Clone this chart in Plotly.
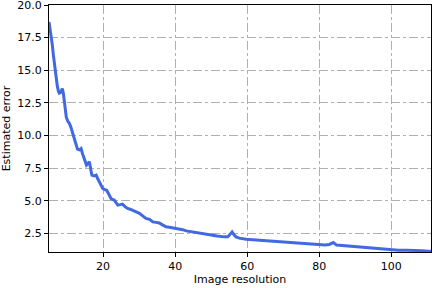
import plotly.graph_objects as go

resolution = [5.0, 5.3, 5.6, 5.9, 6.2, 6.5, 6.8, 7.0, 7.3, 7.6, 7.86, 8.2, 8.5, 8.7, 9.0, 9.4, 9.8, 10.2, 10.6, 11.0, 11.5, 11.75, 12.1, 12.6, 12.9, 13.4, 13.9, 14.3, 14.8, 15.1, 15.4, 15.8, 16.2, 16.6, 16.9, 17.5, 18.1, 18.5, 19.0, 19.5, 19.9, 20.5, 21.0, 21.6, 22.2, 22.6, 23.1, 23.6, 24.1, 24.8, 25.4, 26.1, 26.8, 27.5, 28.2, 29.1, 30.1, 30.8, 31.5, 31.9, 32.9, 33.8, 34.7, 35.6, 36.5, 37.5, 38.4, 39.3, 40.2, 41.2, 42.1, 43.1, 44.0, 44.9, 45.8, 46.7, 47.6, 48.6, 49.5, 50.4, 51.6, 52.8, 53.7, 54.6, 55.2, 55.8, 56.3, 56.9, 57.8, 58.8, 59.7, 60.6, 62.0, 63.4, 64.8, 66.2, 67.6, 69.0, 70.4, 71.7, 73.2, 75.0, 76.9, 79.2, 81.6, 82.8, 83.9, 84.8, 86.5, 88.1, 90.4, 92.7, 95.0, 97.3, 99.6, 102.0, 104.3, 106.6, 108.5, 110.3, 111.0]
error = [18.7, 18.2, 17.5, 17.0, 16.2, 15.5, 14.8, 14.2, 13.8, 13.4, 13.25, 13.3, 13.55, 13.6, 13.2, 12.3, 11.4, 11.1, 10.95, 10.7, 10.2, 9.9, 9.6, 9.1, 8.95, 8.9, 9.0, 8.6, 8.27, 8.0, 7.73, 7.85, 7.98, 7.4, 6.96, 6.9, 6.96, 6.7, 6.45, 6.2, 5.94, 5.85, 5.8, 5.5, 5.18, 5.1, 5.05, 4.85, 4.66, 4.7, 4.74, 4.55, 4.41, 4.35, 4.28, 4.15, 4.03, 3.88, 3.72, 3.64, 3.57, 3.38, 3.34, 3.30, 3.15, 3.0, 2.96, 2.92, 2.9, 2.87, 2.78, 2.69, 2.65, 2.61, 2.57, 2.54, 2.51, 2.49, 2.42, 2.36, 2.29, 2.23, 2.23, 2.23, 2.4, 2.61, 2.4, 2.23, 2.13, 2.06, 2.04, 2.03, 2.0, 1.98, 1.94, 1.9, 1.87, 1.85, 1.83, 1.8, 1.77, 1.72, 1.67, 1.63, 1.6, 1.65, 1.8, 1.6, 1.56, 1.52, 1.47, 1.42, 1.38, 1.34, 1.28, 1.21, 1.21, 1.21, 1.17, 1.13, 1.12]

fig = go.Figure()
fig.add_trace(go.Scatter(
    x=resolution, y=error, mode="lines",
    line=dict(color="#4169E1", width=3),
    showlegend=False,
))

axis_common = dict(
    showline=True, linecolor="black", linewidth=1, mirror=True,
    ticks="outside", ticklen=4, tickcolor="black", tickwidth=1,
    showgrid=True, gridcolor="#b0b0b0", gridwidth=1, griddash="dashdot",
    zeroline=False, automargin=False, ticklabeloverflow="allow",
    tickfont=dict(family="DejaVu Sans", size=11, color="black"),
)

fig.update_layout(
    width=432, height=288,
    margin=dict(l=49, r=1, t=5, b=36),
    paper_bgcolor="white", plot_bgcolor="white",
    font=dict(family="DejaVu Sans", size=11, color="black"),
    xaxis=dict(range=[5, 111], tickvals=[20, 40, 60, 80, 100],
               ticktext=["20", "40", "60", "80", "100"],
               title=dict(text="Image resolution", standoff=3,
                          font=dict(family="DejaVu Sans", size=11)),
               **axis_common),
    yaxis=dict(range=[1.07, 20.001],
               tickvals=[2.5, 5.0, 7.5, 10.0, 12.5, 15.0, 17.5, 20.0],
               ticktext=["2.5", "5.0", "7.5", "10.0", "12.5", "15.0", "17.5", "20.0"],
               title=dict(text="Estimated error", standoff=6,
                          font=dict(family="DejaVu Sans", size=11)),
               **axis_common),
)

fig.write_html("out.html",
               config={"displayModeBar": False},
               post_script="document.body.style.margin='0';document.body.style.padding='0';")
